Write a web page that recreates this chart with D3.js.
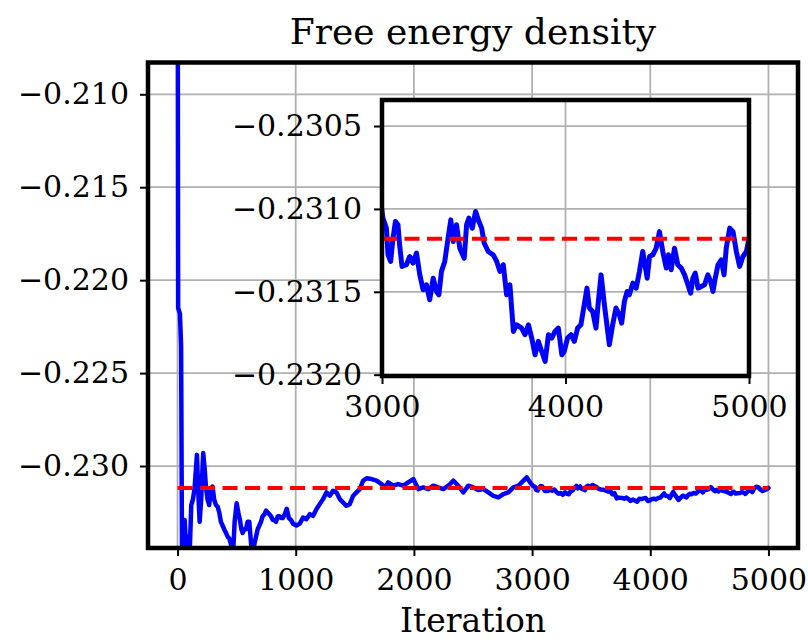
<!DOCTYPE html>
<html><head><meta charset="utf-8">
<script src="https://cdn.jsdelivr.net/npm/d3@7"></script>
<style>body{margin:0;background:#fff} text{font-family:"DejaVu Serif",serif;fill:#000}</style>
</head><body><svg id="chart" width="808" height="642"></svg>
<script>
// ---------- data ----------
const iterations = [0,5,20,30,38,50,60,75,88,100,116,130,144,164,178,187,200,217,230,240,254,268,282,296,310,325,340,353,367,381,395,410,424,438,452,466,483,500,514,528,540,551,565,579,593,607,620,636,650,664,678,692,706,720,735,749,763,777,791,805,819,833,848,862,876,890,907,924,942,960,
977,1006,1034,1062,1090,1119,1147,1175,1203,1231,1260,1288,1316,1345,1373,1401,1429,1457,1486,1514,1542,1570,1599,1641,1684,1726,1754,1782,1825,1867,1910,1952,1995,2037,2079,2122,2164,2206,2249,2291,2333,2376,2418,2461,2503,2545,2588,2630,2672,2715,2757,2799,2842,2884,2927,2955,2983,
3005,3024,3033,3047,3060,3073,3087,3096,3109,3133,3151,3169,3188,3206,3224,3242,3260,3279,3297,3310,3324,3342,3360,3375,3388,3406,3424,3448,3461,3473,3492,3510,3528,3543,3557,3579,3606,3625,3643,3661,3679,3697,3716,3734,3761,3779,3798,3816,3834,3852,3870,3889,3907,3925,3943,3961,3980,3993,
4011,4030,4048,4066,4084,4099,4117,4130,4148,4166,4179,4194,4212,4239,4257,4275,4294,4306,4321,4336,4348,4367,4385,4403,4421,4445,4458,4476,4494,4512,4530,4549,4561,4576,4594,4612,4631,4649,4667,4682,4694,4707,4722,4740,4758,4776,4791,4804,4816,4831,4849,4864,4876,4895,4913,4931,4949,4967,4986,5000];
const energy = [-0.1950,-0.2215,-0.2218,-0.2235,-0.2352,-0.2338,-0.2329,-0.2346,-0.2338,-0.2352,-0.2321,-0.2318,-0.2312,-0.2294,-0.2318,-0.2330,-0.2318,-0.2293,-0.2302,-0.2311,-0.2318,-0.2321,-0.2313,-0.2311,-0.2318,-0.2321,-0.2322,-0.2325,-0.2330,-0.2332,-0.2334,-0.2336,-0.2338,-0.2339,-0.2342,-0.2352,-0.2330,-0.2320,-0.2325,-0.2329,-0.2334,-0.2336,-0.2334,-0.2334,-0.2330,-0.2330,-0.2340,-0.2352,-0.2342,-0.2338,-0.2334,-0.2332,-0.2330,-0.2327,-0.2326,-0.2324,-0.2325,-0.2326,-0.2327,-0.2329,-0.2329,-0.2330,-0.2327,-0.2327,-0.2328,-0.2328,-0.2326,-0.2323,-0.2328,-0.2329,
-0.23310,-0.23320,-0.23310,-0.23277,-0.23286,-0.23259,-0.23268,-0.23232,-0.23205,-0.23178,-0.23142,-0.23160,-0.23133,-0.23142,-0.23178,-0.23196,-0.23214,-0.23205,-0.23160,-0.23142,-0.23124,-0.23079,-0.23066,-0.23070,-0.23079,-0.23097,-0.23115,-0.23088,-0.23106,-0.23097,-0.23106,-0.23088,-0.23070,-0.23124,-0.23115,-0.23124,-0.23106,-0.23115,-0.23124,-0.23106,-0.23079,-0.23106,-0.23142,-0.23106,-0.23115,-0.23129,-0.23124,-0.23142,-0.23160,-0.23169,-0.23151,-0.23142,-0.23115,-0.23106,-0.23079,-0.23061,-0.23088,
-0.231056,-0.231116,-0.231277,-0.231317,-0.231177,-0.231076,-0.231096,-0.231217,-0.231347,-0.231337,-0.231287,-0.231327,-0.231267,-0.231398,-0.231488,-0.231458,-0.231548,-0.231418,-0.231498,-0.231518,-0.231377,-0.231317,-0.231177,-0.231066,-0.231197,-0.231096,-0.231237,-0.231297,-0.231096,-0.231056,-0.231116,-0.231016,-0.231076,-0.231116,-0.231207,-0.231257,-0.231277,-0.231317,-0.231377,-0.231337,-0.231518,-0.231458,-0.231739,-0.231699,-0.231719,-0.231759,-0.231699,-0.231779,-0.231880,-0.231799,-0.231859,-0.231920,-0.231759,-0.231779,-0.231739,-0.231719,-0.231880,-0.231859,
-0.231779,-0.231759,-0.231799,-0.231719,-0.231699,-0.231598,-0.231478,-0.231598,-0.231619,-0.231719,-0.231558,-0.231398,-0.231578,-0.231819,-0.231699,-0.231598,-0.231639,-0.231689,-0.231558,-0.231498,-0.231518,-0.231448,-0.231478,-0.231377,-0.231257,-0.231418,-0.231287,-0.231277,-0.231237,-0.231137,-0.231257,-0.231357,-0.231277,-0.231367,-0.231237,-0.231337,-0.231357,-0.231398,-0.231458,-0.231508,-0.231418,-0.231387,-0.231478,-0.231468,-0.231458,-0.231398,-0.231438,-0.231498,-0.231418,-0.231337,-0.231307,-0.231398,-0.231237,-0.231116,-0.231137,-0.231257,-0.231347,-0.231287,-0.231257,-0.231177];
const referenceEnergy = -0.23118;
const referenceRange = [0, 5000];
const insetRange = [3000, 5000];
const mainXTicks = [0, 1000, 2000, 3000, 4000, 5000];
const mainYTicks = [-0.230, -0.225, -0.220, -0.215, -0.210];
const insetXTicks = [3000, 4000, 5000];
const insetYTicks = [-0.2320, -0.2315, -0.2310, -0.2305];
const titleText = "Free energy density";
const xLabelText = "Iteration";

// ---------- layout ----------
const svg = d3.select("#chart");
svg.append("rect").attr("width", 808).attr("height", 642).attr("fill", "#fff");
const M = {l: 148, r: 798, t: 62.5, b: 548};
const I = {l: 382, r: 749, t: 100, b: 376};
const FS = 30;
const series = iterations.map((it, i) => ({x: it, y: energy[i]}));

const x = d3.scaleLinear().domain([-250, 5250]).range([M.l, M.r]);
const y = d3.scaleLinear().domain([-0.23441, -0.20829]).range([M.b, M.t]);
const xi = d3.scaleLinear().domain(insetRange).range([I.l, I.r]);
const yi = d3.scaleLinear().domain([-0.232008, -0.230343]).range([I.b, I.t]);

const defs = svg.append("defs");
defs.append("clipPath").attr("id", "clipMain").append("rect")
  .attr("x", M.l).attr("y", M.t).attr("width", M.r - M.l).attr("height", M.b - M.t);
defs.append("clipPath").attr("id", "clipInset").append("rect")
  .attr("x", I.l).attr("y", I.t).attr("width", I.r - I.l).attr("height", I.b - I.t);

function drawPanel(xs, ys, box, xt, yt, xfmt, yfmt, lw, clipId, refRange, xpad, ypad) {
  const g = svg.append("g");
  g.append("rect").attr("x", box.l).attr("y", box.t).attr("width", box.r - box.l).attr("height", box.b - box.t).attr("fill", "#fff");
  const grid = g.append("g").attr("stroke", "#b0b0b0").attr("stroke-width", 1.8);
  xt.forEach(v => grid.append("line").attr("x1", xs(v)).attr("x2", xs(v)).attr("y1", box.t).attr("y2", box.b));
  yt.forEach(v => grid.append("line").attr("y1", ys(v)).attr("y2", ys(v)).attr("x1", box.l).attr("x2", box.r));
  const line = d3.line().x(d => xs(d.x)).y(d => ys(d.y));
  g.append("path").datum(series).attr("clip-path", `url(#${clipId})`)
    .attr("d", line).attr("fill", "none").attr("stroke", "#0000ff")
    .attr("stroke-width", lw).attr("stroke-linejoin", "round").attr("stroke-linecap", "round");
  g.append("path").datum(refRange.map(v => ({x: v, y: referenceEnergy})))
    .attr("clip-path", `url(#${clipId})`)
    .attr("d", line).attr("fill", "none").attr("stroke", "#ff0000")
    .attr("stroke-width", 4).attr("stroke-dasharray", "15,7.5");
  const ax = g.append("g").attr("transform", `translate(0,${box.b})`)
    .call(d3.axisBottom(xs).tickValues(xt).tickFormat(xfmt).tickSize(8).tickPadding(xpad));
  const ay = g.append("g").attr("transform", `translate(${box.l},0)`)
    .call(d3.axisLeft(ys).tickValues(yt).tickFormat(yfmt).tickSize(8).tickPadding(ypad));
  [ax, ay].forEach(a => {
    a.select(".domain").remove();
    a.selectAll(".tick line").attr("stroke", "#000").attr("stroke-width", 2);
    a.selectAll(".tick text").attr("font-size", FS).attr("font-family", "DejaVu Serif").attr("fill", "#000");
  });
  g.append("rect").attr("x", box.l).attr("y", box.t).attr("width", box.r - box.l).attr("height", box.b - box.t)
    .attr("fill", "none").attr("stroke", "#000").attr("stroke-width", 4.5);
  return g;
}

drawPanel(x, y, M, mainXTicks, mainYTicks, d3.format("d"), d3.format(".3f"), 4.5, "clipMain", referenceRange, 13, 11);
drawPanel(xi, yi, I, insetXTicks, insetYTicks, d3.format("d"), d3.format(".4f"), 5, "clipInset", insetRange, 12, 12);

svg.append("text").attr("x", (M.l + M.r) / 2).attr("y", 44).attr("text-anchor", "middle")
  .attr("font-size", 36).text(titleText);
svg.append("text").attr("x", (M.l + M.r) / 2).attr("y", 632).attr("text-anchor", "middle")
  .attr("font-size", 33).text(xLabelText);
</script></body></html>
